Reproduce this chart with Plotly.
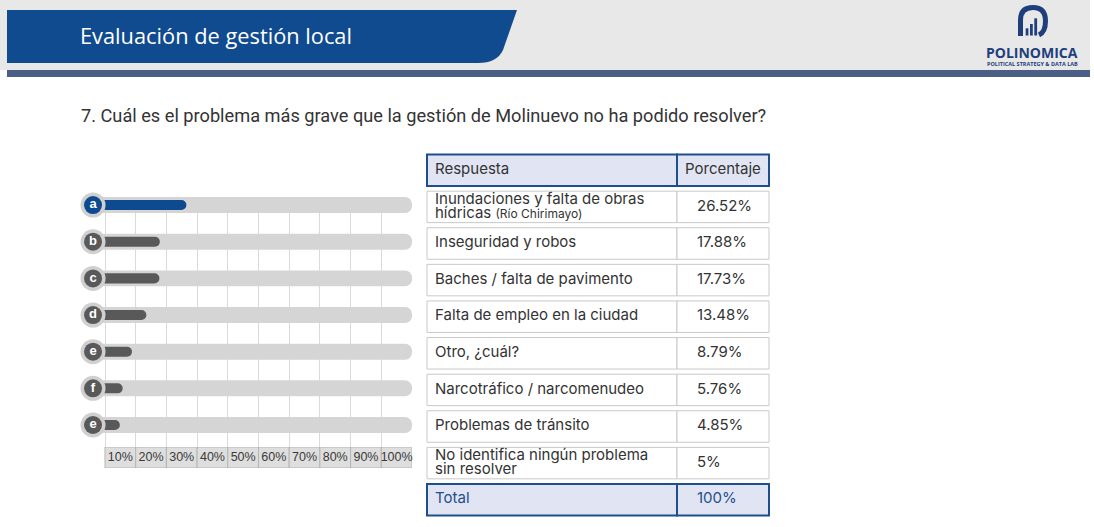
import plotly.graph_objects as go

# ---------------- data ----------------
title_text = "Evaluación de gestión local"
question_text = "7. Cuál es el problema más grave que la gestión de Molinuevo no ha podido resolver?"

bar_letters = ["a", "b", "c", "d", "e", "f", "e"]
bar_values = [26.52, 17.88, 17.73, 13.48, 8.79, 5.76, 4.85]

answers = [
    "Inundaciones y falta de obras\nhídricas <span style='font-size:12px'>(Río Chirimayo)</span>",
    "Inseguridad y robos",
    "Baches / falta de pavimento",
    "Falta de empleo en la ciudad",
    "Otro, ¿cuál?",
    "Narcotráfico / narcomenudeo",
    "Problemas de tránsito",
    "No identifica ningún problema\nsin resolver",
]
percentages = [26.52, 17.88, 17.73, 13.48, 8.79, 5.76, 4.85, 5]
header_labels = ["Respuesta", "Porcentaje"]
total_labels = ["Total", "100%"]
tick_labels = ["10%", "20%", "30%", "40%", "50%", "60%", "70%", "80%", "90%", "100%"]

# ---------------- layout helpers ----------------
W, H = 1094, 527
def px(x):
    return x / W
def py(y):
    return 1 - y / H

NAVY = "#1f4e8c"
BLUE = "#0d4a8f"
DARK = "#595959"
TRACK = "#d5d5d5"
TXT = "#333333"

fig = go.Figure()

# ---------- bar chart (x / y) ----------
rows = list(range(len(bar_values)))
fig.add_trace(go.Bar(
    orientation="h", y=rows, x=[105] * len(rows), base=[-5] * len(rows),
    width=0.436, marker=dict(color=TRACK, cornerradius=8, line=dict(width=0)),
    hoverinfo="skip", showlegend=False, xaxis="x", yaxis="y"))
fig.add_trace(go.Bar(
    orientation="h", y=rows, x=[v + 4 for v in bar_values], base=[-4] * len(rows),
    width=0.273,
    marker=dict(color=[BLUE] + [DARK] * (len(rows) - 1), cornerradius=5, line=dict(width=0)),
    hoverinfo="skip", showlegend=False, xaxis="x", yaxis="y"))
# arrow heads
fig.add_trace(go.Scatter(
    x=[101.4] * len(rows), y=rows, mode="markers",
    marker=dict(symbol="triangle-right", size=9, color="#d6d6d6"),
    cliponaxis=False, hoverinfo="skip", showlegend=False, xaxis="x", yaxis="y"))
# badges
fig.add_trace(go.Scatter(
    x=[-3.9] * len(rows), y=rows, mode="markers",
    marker=dict(size=25, color="#d0d0d0", line=dict(width=0)),
    cliponaxis=False, hoverinfo="skip", showlegend=False, xaxis="x", yaxis="y"))
fig.add_trace(go.Scatter(
    x=[-3.9] * len(rows), y=rows, mode="markers+text", text=bar_letters,
    textposition="middle center",
    textfont=dict(family="Liberation Sans", size=13, color="white", weight="bold"),
    marker=dict(size=18, color=[BLUE] + [DARK] * (len(rows) - 1), line=dict(width=0)),
    cliponaxis=False, hoverinfo="skip", showlegend=False, xaxis="x", yaxis="y"))

# ---------- tick label row (x2 / y2) ----------
cell_x = [5 + 10 * i for i in range(len(tick_labels))]
fig.add_trace(go.Bar(
    x=cell_x, y=[1] * len(cell_x), base=[0] * len(cell_x), width=10,
    marker=dict(color="#dedede", line=dict(color="#b5b5b5", width=1)),
    hoverinfo="skip", showlegend=False, xaxis="x2", yaxis="y2"))
fig.add_trace(go.Scatter(
    x=cell_x, y=[0.5] * len(cell_x), mode="text", text=tick_labels,
    textposition="middle center",
    textfont=dict(family="Liberation Sans", size=12.5, color="#3a3a3a"),
    cliponaxis=False, hoverinfo="skip", showlegend=False, xaxis="x2", yaxis="y2"))

# ---------- table (x3 / y3) ----------
n_rows = len(answers) + 2
trow = list(range(n_rows))
fills = ["#e1e5f3"] + ["white"] * len(answers) + ["#e1e5f3"]
lcol = [NAVY] + ["#c9c9c9"] * len(answers) + [NAVY]
lw = [2] + [1] * len(answers) + [2]
COL1 = 250
COL2 = 92
fig.add_trace(go.Bar(
    orientation="h", y=trow, x=[COL1] * n_rows, base=[0] * n_rows, width=0.86,
    marker=dict(color=fills, line=dict(color=lcol, width=lw)),
    hoverinfo="skip", showlegend=False, xaxis="x3", yaxis="y3"))
fig.add_trace(go.Bar(
    orientation="h", y=trow, x=[COL2] * n_rows, base=[COL1] * n_rows, width=0.86,
    marker=dict(color=fills, line=dict(color=lcol, width=lw)),
    hoverinfo="skip", showlegend=False, xaxis="x3", yaxis="y3"))

TX = 8
tx, ty, tt = [], [], []
for i, a in enumerate(answers):
    lines = a.split("\n")
    if len(lines) == 1:
        tx.append(TX); ty.append(i + 1); tt.append(lines[0])
    else:
        for j, ln in enumerate(lines):
            tx.append(TX); ty.append(i + 1 + (-0.18 if j == 0 else 0.2)); tt.append(ln)
tx.append(TX); ty.append(0); tt.append(header_labels[0])
fig.add_trace(go.Scatter(
    x=tx, y=ty, mode="text", text=tt, textposition="middle right",
    textfont=dict(family="Inter", size=15, color=TXT),
    cliponaxis=False, hoverinfo="skip", showlegend=False, xaxis="x3", yaxis="y3"))
fig.add_trace(go.Scatter(
    x=[258], y=[0], mode="text", text=[header_labels[1]], textposition="middle right",
    textfont=dict(family="Inter", size=15, color=TXT),
    cliponaxis=False, hoverinfo="skip", showlegend=False, xaxis="x3", yaxis="y3"))
fig.add_trace(go.Scatter(
    x=[270] * len(percentages), y=[i + 1 for i in range(len(percentages))], mode="text",
    text=[f"{v:g}%" for v in percentages], textposition="middle right",
    textfont=dict(family="Inter", size=15, color=TXT),
    cliponaxis=False, hoverinfo="skip", showlegend=False, xaxis="x3", yaxis="y3"))
fig.add_trace(go.Scatter(
    x=[TX, 270], y=[n_rows - 1] * 2, mode="text", text=total_labels, textposition="middle right",
    textfont=dict(family="Inter", size=15, color=NAVY),
    cliponaxis=False, hoverinfo="skip", showlegend=False, xaxis="x3", yaxis="y3"))

# ---------- header decoration ----------
shapes = []
shapes.append(dict(type="rect", xref="paper", yref="paper", x0=0, x1=px(1090), y0=py(70), y1=py(0),
                   fillcolor="#e8e8e8", line=dict(width=0), layer="below"))
shapes.append(dict(type="rect", xref="paper", yref="paper", x0=px(7), x1=px(1090), y0=py(77), y1=py(70),
                   fillcolor="#4a5e86", line=dict(width=0), layer="below"))
banner = (f"M {px(7)},{py(10)} L {px(517)},{py(10)} L {px(503)},{py(50)} "
          f"Q {px(497)},{py(63)} {px(478)},{py(63)} L {px(7)},{py(63)} Z")
shapes.append(dict(type="path", xref="paper", yref="paper", path=banner,
                   fillcolor="#0f4b8e", line=dict(width=0), layer="below"))
# logo icon
LOGO = "#1e3f7c"
arc = (f"M {px(1020.5)},{py(36)} L {px(1020.5)},{py(20)} Q {px(1020.5)},{py(7.5)} {px(1033)},{py(7.5)} "
       f"Q {px(1045.5)},{py(7.5)} {px(1045.5)},{py(21)} Q {px(1045.5)},{py(32)} {px(1039)},{py(35)}")
shapes.append(dict(type="path", xref="paper", yref="paper", path=arc,
                   line=dict(color=LOGO, width=5), fillcolor="rgba(0,0,0,0)", layer="above"))
for (a, b, top) in [(1025.7, 1028.4, 28.3), (1030.0, 1032.8, 24.0), (1034.3, 1037.1, 18.3)]:
    shapes.append(dict(type="rect", xref="paper", yref="paper", x0=px(a), x1=px(b), y0=py(35.5), y1=py(top),
                       fillcolor=LOGO, line=dict(width=0), layer="above"))

annotations = [
    dict(text=title_text, x=px(78), y=py(35.5), xref="paper", yref="paper", xanchor="left", yanchor="middle",
         showarrow=False, font=dict(family="Open Sans", size=21.8, color="white")),
    dict(text=question_text, x=px(79), y=py(115), xref="paper", yref="paper", xanchor="left", yanchor="middle",
         showarrow=False, font=dict(family="Roboto", size=18.2, color=TXT)),
    dict(text="<b>POLINOMICA</b>", x=px(1032), y=py(52.5), xref="paper", yref="paper", xanchor="center",
         yanchor="middle", showarrow=False, font=dict(family="Open Sans", size=14, color=LOGO)),
    dict(text="<b>POLITICAL STRATEGY &amp; DATA LAB</b>", x=px(1032), y=py(64), xref="paper", yref="paper",
         xanchor="center", yanchor="middle", showarrow=False, font=dict(family="Open Sans", size=5.5, color=LOGO)),
]

hidden = dict(visible=False, fixedrange=True)
fig.update_layout(
    width=W, height=H, margin=dict(l=0, r=0, t=0, b=0),
    paper_bgcolor="white", plot_bgcolor="rgba(0,0,0,0)",
    barmode="overlay", showlegend=False,
    shapes=shapes, annotations=annotations,
    xaxis=dict(domain=[px(86.58), px(412)], range=[-6, 100], showgrid=True,
               tickvals=list(range(0, 100, 10)), gridcolor="#dadada", gridwidth=1,
               showticklabels=False, ticks="", zeroline=False, showline=False, fixedrange=True),
    yaxis=dict(domain=[py(447), py(197)], range=[6.6, -0.22], showgrid=False, showticklabels=False,
               zeroline=False, showline=False, fixedrange=True),
    xaxis2=dict(domain=[px(86.58), px(412)], range=[-6, 100], anchor="y2", **hidden),
    yaxis2=dict(domain=[py(468), py(447)], range=[0, 1], anchor="x2", **hidden),
    xaxis3=dict(domain=[px(425), px(771)], range=[-2, 344], anchor="y3", **hidden),
    yaxis3=dict(domain=[py(518), py(152)], range=[9.5, -0.5], anchor="x3", **hidden),
)

fig.write_html("out.html")
